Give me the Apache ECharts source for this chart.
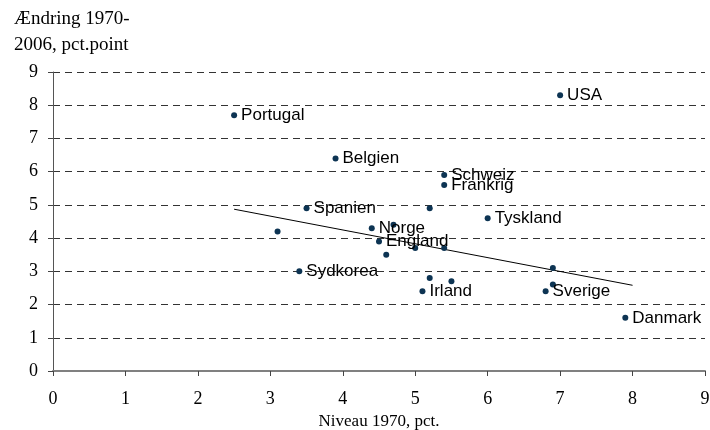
<!DOCTYPE html>
<html><head><meta charset="utf-8">
<script src="https://cdn.jsdelivr.net/npm/echarts@6/dist/echarts.min.js"></script>
<style>html,body{margin:0;padding:0;background:#fff}#c{width:710px;height:430px}</style>
</head><body><div id="c"></div>
<script>
const countries = ['USA','Portugal','Belgien','Schweiz','Frankrig','','Spanien','Tyskland','','Norge','','England','','','','Sydkorea','','','Irland','','','Sverige','Danmark'];
const niveau1970 = [7.0,2.5,3.9,5.4,5.4,5.2,3.5,6.0,3.1,4.4,4.7,4.5,5.0,5.4,4.6,3.4,5.2,5.5,5.1,6.9,6.9,6.8,7.9];
const aendring = [8.3,7.7,6.4,5.9,5.6,4.9,4.9,4.6,4.2,4.3,4.4,3.9,3.7,3.7,3.5,3.0,2.8,2.7,2.4,3.1,2.6,2.4,1.6];
const trendX = [2.5, 8.0];
const trendY = [4.87, 2.58];
const xTicks = [0,1,2,3,4,5,6,7,8,9];
const yTicks = [0,1,2,3,4,5,6,7,8,9];

const chart = echarts.init(document.getElementById('c'));
const serif = '"Liberation Serif", "Times New Roman", serif';
const sans = '"Liberation Sans", Arial, sans-serif';
chart.setOption({
  animation: false,
  grid: {left: 53, right: 5, top: 72, bottom: 59, containLabel: false, outerBoundsMode: 'none'},
  xAxis: {
    type: 'value', min: xTicks[0], max: xTicks[xTicks.length-1], interval: 1,
    name: 'Niveau 1970, pct.', nameLocation: 'middle', nameGap: 40,
    nameTextStyle: {fontFamily: serif, fontSize: 17, color: '#000'},
    axisLine: {lineStyle: {color: '#808080', width: 2}},
    axisTick: {show: true, length: 5, lineStyle: {color: '#444'}},
    axisLabel: {fontFamily: serif, fontSize: 18, color: '#000', margin: 19},
    splitLine: {show: false}
  },
  yAxis: {
    type: 'value', min: yTicks[0], max: yTicks[yTicks.length-1], interval: 1,
    name: 'Ændring 1970-\n2006, pct.point', nameLocation: 'end', nameGap: 14,
    nameTextStyle: {fontFamily: serif, fontSize: 19, color: '#000', align: 'left', lineHeight: 26, padding: [0,0,0,-39]},
    axisLine: {show: true, lineStyle: {color: '#555', width: 1}},
    axisTick: {show: true, length: 5, lineStyle: {color: '#444'}},
    axisLabel: {fontFamily: serif, fontSize: 18, color: '#000', margin: 15},
    splitLine: {show: true, lineStyle: {color: '#333', type: [7,5], width: 1}}
  },
  series: [
    {
      type: 'line', data: trendX.map((x,i)=>[x, trendY[i]]), symbol: 'none',
      lineStyle: {color: '#000', width: 1}, z: 2
    },
    {
      type: 'scatter', symbolSize: 6, z: 3,
      itemStyle: {color: '#0d3453', opacity: 1},
      data: niveau1970.map((x,i)=>({value:[x, aendring[i]], name: countries[i]})),
      label: {show: true, position: 'right', distance: 4, formatter: p => p.name,
        fontFamily: sans, fontSize: 17, color: '#000'}
    }
  ]
});
</script></body></html>
